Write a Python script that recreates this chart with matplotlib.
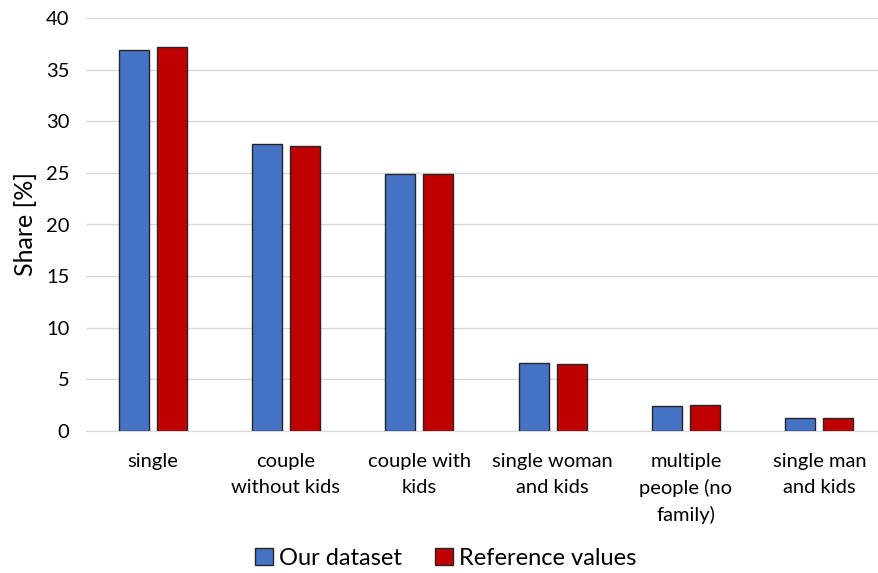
import matplotlib.pyplot as plt
import numpy as np

plt.rcParams['font.family'] = ['Lato', 'DejaVu Sans']

categories = ['single', 'couple\nwithout kids', 'couple with\nkids', 'single woman\nand kids',
              'multiple\npeople (no\nfamily)', 'single man\nand kids']
our_dataset = [36.9, 27.8, 24.9, 6.6, 2.4, 1.3]
reference_values = [37.2, 27.6, 24.9, 6.5, 2.5, 1.3]
yticks = [0, 5, 10, 15, 20, 25, 30, 35, 40]

fig = plt.figure(figsize=(8.79, 5.73), dpi=100)
ax = fig.add_axes([86 / 879, 142 / 573, 800 / 879, 413 / 573])

x = np.arange(len(categories))
w = 0.225
off = 0.143
ax.bar(x - off, our_dataset, w, color='#4472c4', edgecolor='#262626', linewidth=1.0,
       label='Our dataset', zorder=3)
ax.bar(x + off, reference_values, w, color='#c00000', edgecolor='#262626', linewidth=1.0,
       label='Reference values', zorder=3)

ax.set_xlim(-0.5, 5.5)
ax.set_ylim(0, 40)
ax.set_yticks(yticks)
ax.set_xticks(x)
ax.set_xticklabels(categories, fontsize=14.5, linespacing=1.6, va='top')
ax.tick_params(axis='both', length=0, colors='#000000')
ax.tick_params(axis='y', labelsize=14.5, pad=12)
ax.tick_params(axis='x', pad=16)
ax.yaxis.grid(True, color='#d9d9d9', linewidth=1.0, zorder=0)
for s in ['top', 'right', 'left']:
    ax.spines[s].set_visible(False)
ax.spines['bottom'].set_color('#d9d9d9')
ax.set_ylabel('Share [%]', fontsize=18, labelpad=6)

fig.legend(loc='center', bbox_to_anchor=(0.507, 0.026), ncol=2, frameon=False,
           fontsize=17, handlelength=0.75, handleheight=0.75, handletextpad=0.25,
           columnspacing=1.4)

fig.savefig('out.png', dpi=100)
